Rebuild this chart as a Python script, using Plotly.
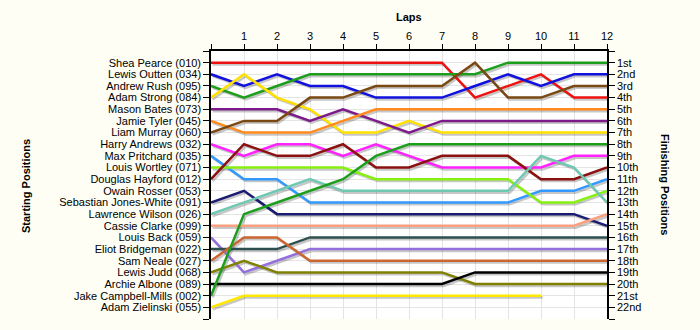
import plotly.graph_objects as go

laps = list(range(13))
lap_labels = [""] + [str(i) for i in range(1, 13)]

start_names = [
    "Shea Pearce (010)", "Lewis Outten (034)", "Andrew Rush (095)", "Adam Strong (084)",
    "Mason Bates (073)", "Jamie Tyler (045)", "Liam Murray (060)", "Harry Andrews (032)",
    "Max Pritchard (035)", "Louis Wortley (071)", "Douglas Hayford (012)", "Owain Rosser (053)",
    "Sebastian Jones-White (091)", "Lawrence Wilson (026)", "Cassie Clarke (099)",
    "Louis Back (059)", "Eliot Bridgeman (022)", "Sam Neale (027)", "Lewis Judd (068)",
    "Archie Albone (089)", "Jake Campbell-Mills (002)", "Adam Zielinski (055)",
]
finish_labels = ["1st", "2nd", "3rd"] + [f"{i}th" for i in range(4, 21)] + ["21st", "22nd"]

shea = [1, 1, 1, 1, 1, 1, 1, 1, 4, 3, 2, 4, 4]
lewis_o = [2, 3, 2, 3, 3, 4, 4, 4, 3, 2, 3, 2, 2]
andrew = [3, 4, 3, 2, 2, 2, 2, 2, 2, 1, 1, 1, 1]
adam_s = [4, 2, 4, 5, 7, 7, 6, 7, 7, 7, 7, 7, 7]
mason = [5, 5, 5, 6, 5, 6, 7, 6, 6, 6, 6, 6, 6]
jamie = [6, 7, 7, 7, 6, 5, 5, 5, 5, 5, 5, 5, 5]
liam = [7, 6, 6, 4, 4, 3, 3, 3, 1, 4, 4, 3, 3]
harry = [8, 9, 8, 8, 9, 8, 9, 10, 10, 10, 10, 9, 9]
max_p = [9, 11, 11, 13, 13, 13, 13, 13, 13, 13, 12, 12, 11]
louis_w = [10, 10, 10, 10, 10, 11, 11, 11, 11, 11, 13, 13, 12]
douglas = [11, 8, 9, 9, 8, 10, 10, 9, 9, 9, 11, 11, 10]
owain = [None] * 13
sebastian = [13, 12, 14, 14, 14, 14, 14, 14, 14, 14, 14, 14, 15]
lawrence = [14, 13, 12, 11, 12, 12, 12, 12, 12, 12, 9, 10, 13]
cassie = [15, 15, 15, 15, 15, 15, 15, 15, 15, 15, 15, 15, 14]
louis_b = [16, 19, 18, 17, 17, 17, 17, 17, 17, 17, 17, 17, 17]
eliot = [17, 17, 17, 16, 16, 16, 16, 16, 16, 16, 16, 16, 16]
sam = [18, 16, 16, 18, 18, 18, 18, 18, 18, 18, 18, 18, 18]
lewis_j = [19, 18, 19, 19, 19, 19, 19, 19, 20, 20, 20, 20, 20]
archie = [20, 20, 20, 20, 20, 20, 20, 20, 19, 19, 19, 19, 19]
jake = [21, 14, 13, 12, 11, 9, 8, 8, 8, 8, 8, 8, 8]
adam_z = [22, 21, 21, 21, 21, 21, 21, 21, 21, 21, 21, None, None]

series = [shea, lewis_o, andrew, adam_s, mason, jamie, liam, harry, max_p, louis_w,
          douglas, owain, sebastian, lawrence, cassie, louis_b, eliot, sam, lewis_j,
          archie, jake, adam_z]
colors = ["#EE1111", "#1111DD", "#1C9E1C", "#FFE000", "#7D1A8A", "#FF8A1E", "#7A4812",
          "#FF22FF", "#3399FF", "#88F010", "#8B1010", "#999999", "#1B1B72", "#6FC8B2",
          "#F8A080", "#9370DB", "#2F4F4F", "#CC6630", "#808000", "#000000", "#1C9E1C",
          "#FFE800"]

fig = go.Figure()
dx, dy = 0.05, 0.16
for ys in series:
    fig.add_trace(go.Scatter(
        x=[x + dx for x in laps], y=[(v + dy) if v is not None else None for v in ys],
        mode="lines", line=dict(color="rgba(0,0,0,0.22)", width=2.5),
        showlegend=False, hoverinfo="skip"))
for name, ys, c in zip(start_names, series, colors):
    fig.add_trace(go.Scatter(x=laps, y=ys, mode="lines", name=name,
                             line=dict(color=c, width=2.5), showlegend=False))
fig.add_trace(go.Scatter(x=[None], y=[None], yaxis="y2", showlegend=False))

tick_font = dict(family="Arial, Liberation Sans", size=11, color="#000000")
title_font = dict(family="Arial, Liberation Sans", size=11, color="#000000")
fig.update_layout(
    width=700, height=330,
    margin=dict(l=211, r=93, t=51, b=11),
    paper_bgcolor="#FEFEF4", plot_bgcolor="#FFFFFF",
    font=tick_font,
    xaxis=dict(side="top", range=[0, 12], tickvals=laps, ticktext=lap_labels,
               ticks="outside", ticklen=5, tickcolor="black", showline=True,
               linecolor="black", linewidth=1.5, showgrid=True, gridcolor="#E4E4E4",
               zeroline=False, tickfont=tick_font),
    yaxis=dict(range=[23, 0], tickvals=list(range(24)), ticktext=[""] + start_names + [""],
               ticks="outside", ticklen=6, tickcolor="black", showline=True,
               linecolor="black", linewidth=1.5, showgrid=True, gridcolor="#E4E4E4",
               zeroline=False, tickfont=tick_font),
    yaxis2=dict(overlaying="y", side="right", range=[23, 0], tickvals=list(range(24)),
                ticktext=[""] + finish_labels + [""], ticks="outside", ticklen=6,
                tickcolor="black", showline=True, linecolor="black", linewidth=1.5,
                showgrid=False, zeroline=False, tickfont=tick_font),
    annotations=[
        dict(text="<b>Laps</b>", xref="paper", yref="paper", x=0.5, y=1 + 34 / 268,
             xanchor="center", yanchor="middle", showarrow=False, font=title_font),
        dict(text="<b>Starting Positions</b>", xref="paper", yref="paper",
             x=(26 - 211) / 396, y=(319 - 186) / 268, xanchor="center", yanchor="middle",
             textangle=-90, showarrow=False, font=title_font),
        dict(text="<b>Finishing Positions</b>", xref="paper", yref="paper",
             x=(665 - 211) / 396, y=(319 - 184) / 268, xanchor="center", yanchor="middle",
             textangle=90, showarrow=False, font=title_font),
    ],
)
fig.write_html("out.html")
